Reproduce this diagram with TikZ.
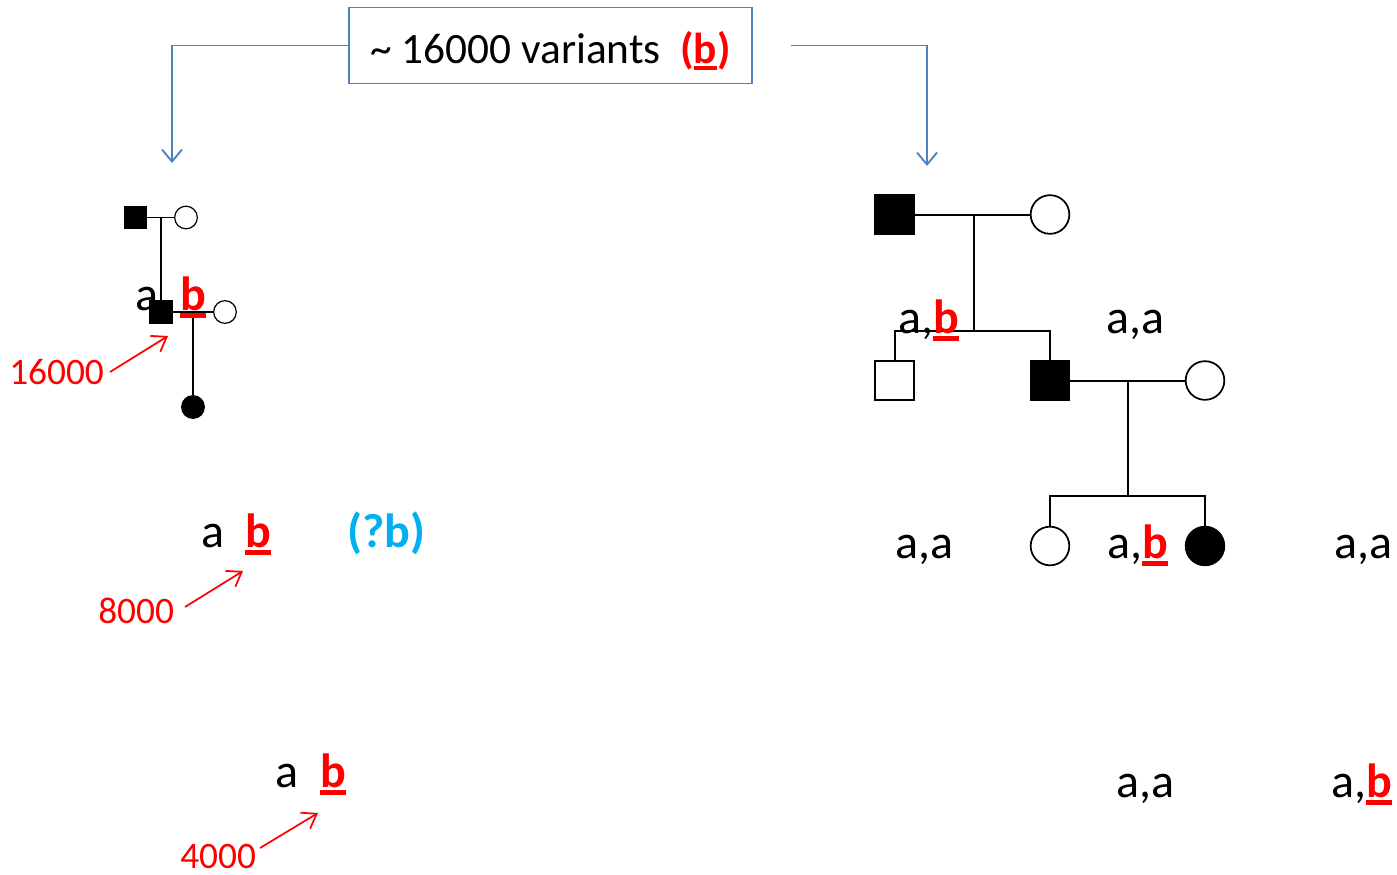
\documentclass[tikz,border=0pt]{standalone}
\usepackage{fontspec}
\setmainfont{Carlito}
\usetikzlibrary{arrows.meta}
\definecolor{hdrblue}{RGB}{79,129,189}
\definecolor{qcyan}{RGB}{0,176,240}
% bold red allele "b", underlined
\newcommand{\varb}{{\color{red}\bfseries\setbox0=\hbox{b}\makebox[0pt][l]{\rule[-0.17em]{\wd0}{0.1em}}\box0}}
\begin{document}
\begin{tikzpicture}[x=0.75pt,y=-0.75pt,
  lbl/.style={inner sep=0pt, anchor=base west, font=\fontsize{36}{40}\selectfont},
  num/.style={inner sep=0pt, anchor=base west, text=red, font=\fontsize{28}{32}\selectfont},
  ped/.style={line width=1.5pt},
  sped/.style={line width=0.9pt},
  msq/.style={draw, rectangle, minimum size=29pt, inner sep=0pt, line width=1.3pt},
  fci/.style={draw, circle, minimum size=29pt, inner sep=0pt, line width=1.3pt},
  smsq/.style={draw, rectangle, minimum size=17pt, inner sep=0pt, line width=0.9pt},
  sfci/.style={draw, circle, minimum size=17pt, inner sep=0pt, line width=0.9pt},
  aff/.style={fill=black},
  blueline/.style={draw=hdrblue, line width=1.4pt, -{Straight Barb[length=9pt,width=15pt]}},
  redarrow/.style={draw=red, line width=1.3pt, -{Straight Barb[length=10pt,width=14pt]}}]
\useasboundingbox (0,0) rectangle (1397,875);

% header box and its two connectors
\node[draw=hdrblue, line width=1.3pt, minimum width=302pt, minimum height=57pt, inner sep=0pt] (hdr) at (550.5,45.5) {};
\node[inner sep=0pt, anchor=base, font=\fontsize{32.5}{36}\selectfont] (hdrtxt) at (550.5,63) {\textasciitilde{} 16000 variants\ \ {\color{red}\bfseries(\varb)}};
\coordinate (ltip) at (172,163);
\coordinate (rstart) at (791,45.5);
\coordinate (rtip) at (927,166);
\draw[blueline] (hdr.west) -| (ltip);
\draw[blueline] (rstart) -| (rtip);

% small pedigree (left)
\node[smsq, aff] (sgf) at (135.5,217.5) {};
\node[sfci] (sgm) at (186,217.5) {};
\draw[sped] (sgf.east) -- (sgm.west);
\node[smsq, aff] (sfa) at (161,312) {};
\node[sfci] (smo) at (225,312) {};
\coordinate (sm1) at (161,217.5);
\draw[sped] (sm1) -- (sfa.north);
\draw[sped] (sfa.east) -- (smo.west);
\node[sfci, aff] (sda) at (193,407) {};
\coordinate (sm2) at (193,312);
\draw[sped] (sm2) -- (sda.north);
\node[lbl] (sa1) at (135,310) {a};
\node[lbl] (sb1) at (180,310) {\varb};

% left allele labels and counts
\node[lbl] (la2) at (201,547) {a};
\node[lbl] (lb2) at (245,547) {\varb};
\node[lbl, text=qcyan, font=\fontsize{36}{40}\selectfont\bfseries] (lq2) at (347,547) {(?b)};
\node[lbl] (la3) at (275,787) {a};
\node[lbl] (lb3) at (320,787) {\varb};

\node[num] (n16) at (9,384) {16000};
\node[num] (n8) at (98,623) {8000};
\node[num] (n4) at (180,868) {4000};
\coordinate (t16) at (110,372); \coordinate (h16) at (168,336);
\coordinate (t8) at (185,607);  \coordinate (h8) at (243,571);
\coordinate (t4) at (260,848);  \coordinate (h4) at (318,813);
\draw[redarrow] (t16) -- (h16);
\draw[redarrow] (t8) -- (h8);
\draw[redarrow] (t4) -- (h4);

% large pedigree (right)
\node[msq, aff] (gf) at (894.5,214.5) {};
\node[fci] (gm) at (1050,214.5) {};
\draw[ped] (gf.east) -- (gm.west);
\coordinate (m1) at (974,214.5);
\coordinate (s1) at (974,331);
\draw[ped] (m1) -- (s1);
\node[msq] (unc) at (894.5,380.5) {};
\node[msq, aff] (fa) at (1050,380.5) {};
\draw[ped] (unc.north) |- (s1) -| (fa.north);
\node[fci] (mo) at (1205,380.5) {};
\draw[ped] (fa.east) -- (mo.west);
\coordinate (m2) at (1128,380.5);
\coordinate (s2) at (1128,496);
\draw[ped] (m2) -- (s2);
\node[fci] (d1) at (1050,546) {};
\node[fci, aff] (d2) at (1205,546) {};
\draw[ped] (d1.north) |- (s2) -| (d2.north);

% genotypes
\node[lbl] (g1) at (898,333) {a,\varb};
\node[lbl] (g2) at (1106,333) {a,a};
\node[lbl] (g3) at (895,558) {a,a};
\node[lbl] (g4) at (1107,558) {a,\varb};
\node[lbl] (g5) at (1334,558) {a,a};
\node[lbl] (g6) at (1116,797) {a,a};
\node[lbl] (g7) at (1331,797) {a,\varb};
\end{tikzpicture}
\end{document}
